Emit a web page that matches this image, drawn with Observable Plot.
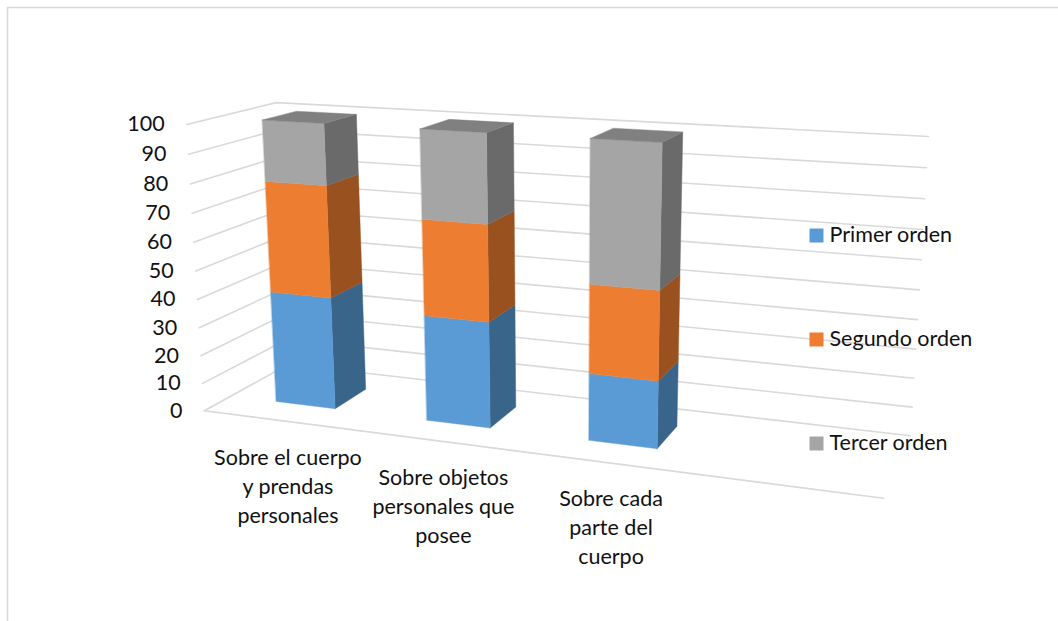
<!DOCTYPE html>
<html lang="es"><head><meta charset="utf-8">
<script src="https://cdn.jsdelivr.net/npm/d3@7"></script>
<script src="https://cdn.jsdelivr.net/npm/@observablehq/plot@0.6"></script>
<style>body{margin:0;background:#fff}</style></head><body><div id="chart"></div>
<script>
// Chart data: share of each order within each category
const categories = ["Sobre el cuerpo\ny prendas\npersonales", "Sobre objetos\npersonales que\nposee", "Sobre cada\nparte del\ncuerpo"];
const seriesNames = ["Primer orden", "Segundo orden", "Tercer orden"];
const primerOrden = [40, 37, 23];
const segundoOrden = [39, 33, 30];
const tercerOrden = [21, 30, 47];
const ticks = [0, 10, 20, 30, 40, 50, 60, 70, 80, 90, 100];

// Face colours per series: front, side
const frontColors = ["#5B9BD5", "#ED7D31", "#A5A5A5"];
const sideColors = ["#39658A", "#98511F", "#6A6A6A"];
const topColor = "#808080";
const gridColor = "#D9D9D9";
const font = "Lato, 'Open Sans', sans-serif";
const fontSize = 21.5;

// The axes box is a unit cube (X along categories, Y into the page, Z value/100).
// A 3x4 camera is fitted to where the cube's corners land on the page.
const cubeCorners = [
  [0, 0, 0, 204, 410], [0, 0, 1, 186, 124], [0, 1, 0, 288, 364], [0, 1, 1, 276, 102],
  [1, 1, 0, 910, 435], [1, 1, 1, 928, 136], [1, 0, 0, 883, 498]
];
function solve(A, b) {
  const n = b.length, M = A.map((r, i) => [...r, b[i]]);
  for (let i = 0; i < n; i++) {
    let p = i;
    for (let r = i + 1; r < n; r++) if (Math.abs(M[r][i]) > Math.abs(M[p][i])) p = r;
    [M[i], M[p]] = [M[p], M[i]];
    for (let r = 0; r < n; r++) {
      if (r === i) continue;
      const f = M[r][i] / M[i][i];
      for (let c = i; c <= n; c++) M[r][c] -= f * M[i][c];
    }
  }
  return M.map((r, i) => r[n] / r[i]);
}
const rows = [], rhs = [];
for (const [X, Y, Z, u, v] of cubeCorners) {
  rows.push([X, Y, Z, 1, 0, 0, 0, 0, -u * X, -u * Y, -u * Z]); rhs.push(u);
  rows.push([0, 0, 0, 0, X, Y, Z, 1, -v * X, -v * Y, -v * Z]); rhs.push(v);
}
const N = 11;
const m = solve(
  d3.range(N).map(i => d3.range(N).map(j => d3.sum(rows, r => r[i] * r[j]))),
  d3.range(N).map(i => d3.sum(rows, (r, k) => r[i] * rhs[k]))
);
const project = (X, Y, Z) => {
  const w = m[8] * X + m[9] * Y + m[10] * Z + 1;
  return [(m[0] * X + m[1] * Y + m[2] * Z + m[3]) / w, (m[4] * X + m[5] * Y + m[6] * Z + m[7]) / w];
};

// Bars sit in four equal category slots (the last one is empty)
const slots = 4, barWidth = 0.1, depthFront = 0.3, depthBack = 0.7;
const barCenter = i => (i + 0.5) / slots + 0.003;

// Polygons of the box faces, one record per vertex
const faces = [];
function addFace(id, fill, corners) {
  for (const c of corners) {
    const [x, y] = project(...c);
    faces.push({id, fill, x, y});
  }
}
[primerOrden, segundoOrden, tercerOrden].forEach((series, s, all) => {
  series.forEach((value, i) => {
    const z0 = d3.sum(all.slice(0, s), a => a[i]) / 100, z1 = z0 + value / 100;
    const xl = barCenter(i) - barWidth / 2, xr = barCenter(i) + barWidth / 2;
    addFace(`side-${s}-${i}`, sideColors[s], [[xr, depthFront, z0], [xr, depthBack, z0], [xr, depthBack, z1], [xr, depthFront, z1]]);
    addFace(`front-${s}-${i}`, frontColors[s], [[xl, depthFront, z0], [xr, depthFront, z0], [xr, depthFront, z1], [xl, depthFront, z1]]);
    if (s === all.length - 1) addFace(`top-${i}`, topColor, [[xl, depthFront, z1], [xr, depthFront, z1], [xr, depthBack, z1], [xl, depthBack, z1]]);
  });
});

// Gridlines: left wall then back wall, plus the front edge of the floor
const grid = [];
for (const t of ticks) {
  const z = t / 100;
  [[0, 0, z], [0, 1, z], [1, 1, z]].forEach(c => {
    const [x, y] = project(...c);
    grid.push({id: t, x, y});
  });
}
[[0, 0, 0], [1, 0, 0]].forEach(c => {
  const [x, y] = project(...c);
  grid.push({id: "floor", x, y});
});

const tickLabels = ticks.map(t => {
  const [x, y] = project(0, 0, t / 100);
  return {text: String(t), x: x - 22, y};
});
const categoryLabels = categories.map((text, i) => {
  const [x, y] = project(barCenter(i), depthFront * 0.3, 0);
  return {text, x, y};
});
const legendRows = seriesNames.map((name, i) => ({name, color: frontColors[i], y: 235 + i * 104}));

document.getElementById("chart").append(Plot.plot({
  width: 1058, height: 621, margin: 0,
  style: {background: "#fff", fontFamily: font},
  x: {domain: [0, 1058], range: [0, 1058], axis: null},
  y: {domain: [0, 621], range: [0, 621], axis: null},
  color: {type: "identity"},
  marks: [
    // chart area outline (top and left edges only are in view)
    Plot.ruleY([7], {x1: 7, x2: 1058, stroke: gridColor, strokeWidth: 1.6}),
    Plot.ruleX([7], {y1: 7, y2: 621, stroke: gridColor, strokeWidth: 1.6}),
    Plot.line(grid, {x: "x", y: "y", z: "id", stroke: gridColor, strokeWidth: 1.6}),
    Plot.line(faces, {x: "x", y: "y", z: "id", fill: "fill", stroke: "fill", strokeWidth: 0.4, curve: "linear-closed"}),
    Plot.text(tickLabels, {x: "x", y: "y", text: "text", textAnchor: "end", fontSize, fill: "#111"}),
    Plot.text(categoryLabels, {x: "x", y: "y", text: "text", dy: 69, textAnchor: "middle", lineAnchor: "middle", lineHeight: 29 / fontSize, fontSize, fill: "#111"}),
    Plot.dot(legendRows, {x: 816, y: "y", symbol: "square", r: 7.9, fill: "color", stroke: "none"}),
    Plot.text(legendRows, {x: 829, y: "y", text: "name", textAnchor: "start", fontSize, fill: "#111"})
  ]
}));
</script></body></html>
